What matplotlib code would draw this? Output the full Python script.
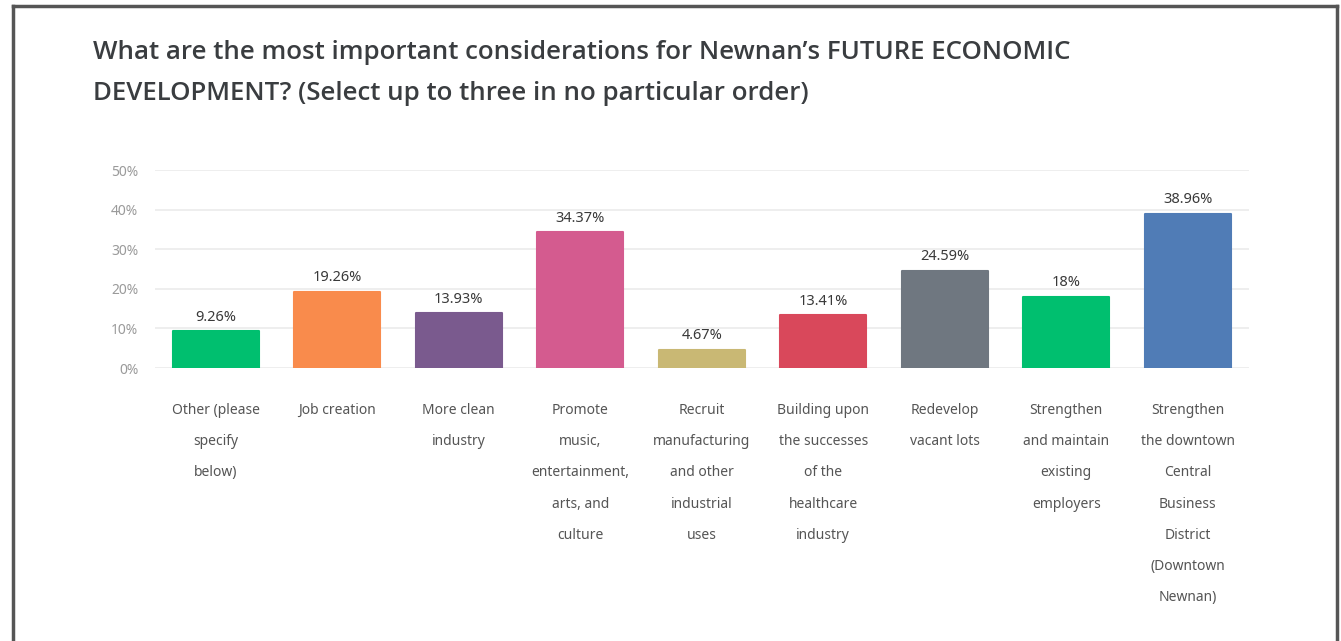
import matplotlib.pyplot as plt
from matplotlib.lines import Line2D

# 응답 데이터
categories = [
    'Other (please\nspecify\nbelow)',
    'Job creation',
    'More clean\nindustry',
    'Promote\nmusic,\nentertainment,\narts, and\nculture',
    'Recruit\nmanufacturing\nand other\nindustrial\nuses',
    'Building upon\nthe successes\nof the\nhealthcare\nindustry',
    'Redevelop\nvacant lots',
    'Strengthen\nand maintain\nexisting\nemployers',
    'Strengthen\nthe downtown\nCentral\nBusiness\nDistrict\n(Downtown\nNewnan)',
]
values = [9.26, 19.26, 13.93, 34.37, 4.67, 13.41, 24.59, 18, 38.96]
value_labels = ['9.26%', '19.26%', '13.93%', '34.37%', '4.67%', '13.41%', '24.59%', '18%', '38.96%']
colors = ['#00BF6F', '#F98B4C', '#7A5A8E', '#D45B8F', '#C9B874',
          '#D9485B', '#6F7780', '#00BF6F', '#507CB6']
y_ticks = [0, 10, 20, 30, 40, 50]
y_tick_labels = ['0%', '10%', '20%', '30%', '40%', '50%']

title = ("What are the most important considerations for Newnan\u2019s FUTURE ECONOMIC\n"
         "DEVELOPMENT? (Select up to three in no particular order)")


def main():
    fig = plt.figure(figsize=(13.41, 6.41), dpi=100)
    fig.patch.set_facecolor('white')

    # 바깥 테두리 (왼쪽, 위, 오른쪽)
    fig.add_artist(Line2D([13 / 1341, 13 / 1341], [0, 1 - 6 / 641], color='#555555', lw=2.5))
    fig.add_artist(Line2D([13 / 1341, 1337 / 1341], [1 - 6 / 641, 1 - 6 / 641], color='#555555', lw=2.5))
    fig.add_artist(Line2D([1337 / 1341, 1337 / 1341], [0, 1 - 6 / 641], color='#555555', lw=2.5))

    # 제목
    fig.text(93 / 1341, 1 - 40 / 641, title, ha='left', va='top', fontsize=18.6,
             fontweight='semibold', family='Open Sans', color='#3a3d40', linespacing=1.82)

    ax = fig.add_axes([155 / 1341, 273 / 641, 1093.5 / 1341, 198 / 641])
    x = range(len(values))
    ax.bar(x, values, width=0.71, color=colors, edgecolor=colors, linewidth=1.5,
           joinstyle='round', zorder=3)

    for i, (v, lab) in enumerate(zip(values, value_labels)):
        ax.text(i, v + 1.6, lab, ha='center', va='bottom', fontsize=10.5,
                fontweight='bold', color='#3a3a3a', family='Noto Sans')

    ax.set_xlim(-0.5, len(values) - 0.5)
    ax.set_ylim(0, 50)
    ax.set_yticks(y_ticks)
    ax.set_yticklabels(y_tick_labels, fontsize=10, color='#9a9a9a', family='Noto Sans')
    ax.set_xticks(list(x))
    ax.set_xticklabels(categories, fontsize=10, color='#555555', family='Noto Sans',
                       fontweight='semibold', linespacing=2.48, va='top')
    ax.tick_params(axis='x', length=0, pad=25)
    ax.tick_params(axis='y', length=0, pad=12)

    # y축에만 그리드 표시
    ax.grid(True, axis='y', color='#ebebeb', linewidth=1.2, zorder=0)
    for s in ax.spines.values():
        s.set_visible(False)

    fig.savefig('out.png', dpi=100)


if __name__ == "__main__":
    main()
